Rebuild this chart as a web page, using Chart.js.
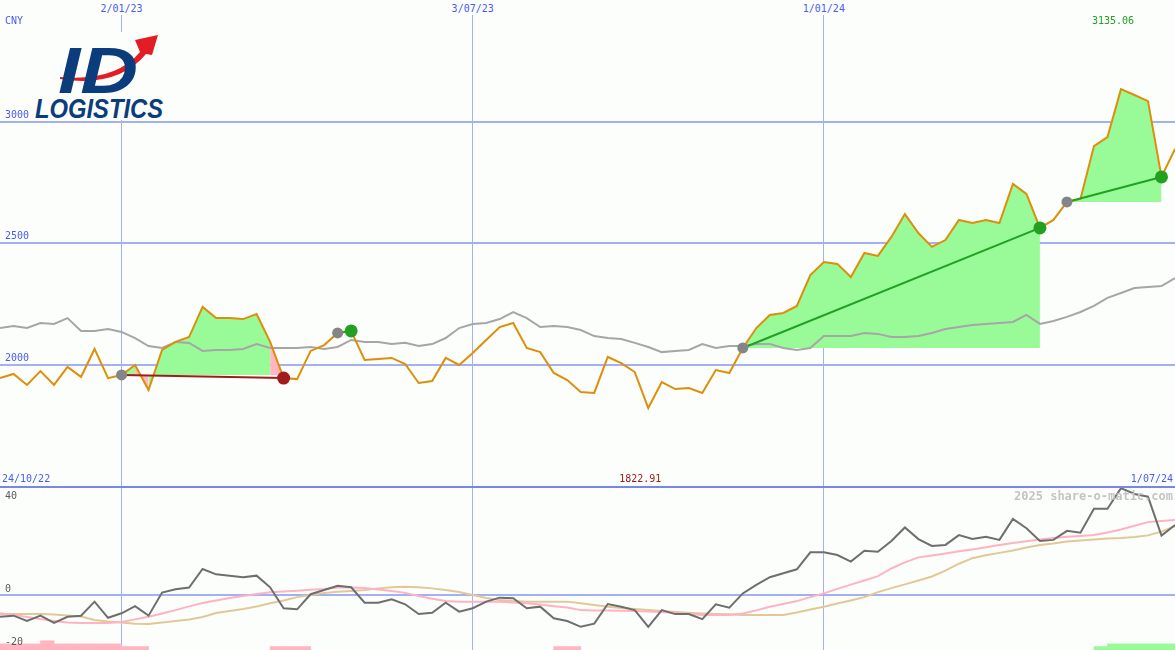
<!DOCTYPE html>
<html>
  <head>
    <title>ID Logistics weekly chart</title>
    <script src="https://cdn.jsdelivr.net/npm/chart.js"></script>
    <style>
      body {
        margin: 0;
        background: #fcfefc;
        font-family: "DejaVu Sans Mono", monospace;
      }

      #page {
        position: relative;
        width: 1175px;
        height: 650px;
        overflow: hidden;
      }

      canvas {
        position: absolute;
        left: 0;
      }

      #priceChart {
        top: 15px;
      }

      #momChart {
        top: 487px;
      }

      .lbl {
        position: absolute;
        font-size: 10px;
        line-height: 10px;
        white-space: nowrap;
        color: #4a5af2;
      }

      #divider {
        position: absolute;
        left: 0;
        top: 486px;
        width: 1175px;
        height: 2px;
        background: #7886ec;
      }

      #logo {
        position: absolute;
        left: 30px;
        top: 32px;
      }
    </style>
  </head>
  <body>
    <div id="page">
      <canvas id="momChart" width="1175" height="163"></canvas>
      <canvas id="priceChart" width="1175" height="472"></canvas>
      <div id="divider"></div>
      <svg id="logo" width="136" height="88">
        <rect width="136" height="88" fill="#fcfefc" />
        <path d="M30 45 Q85 50 110 20 L105 8 L128 3 L122 23 L116 22 Q88 56 30 47 Z" fill="#e41d25" />
        <text x="28" y="61" font-family="Liberation Sans" font-size="64" font-weight="bold"
          font-style="italic" fill="#0b3c7c" textLength="80" lengthAdjust="spacingAndGlyphs">ID</text>
        <text x="5" y="86" font-family="Liberation Sans" font-size="28" font-weight="bold"
          font-style="italic" fill="#0b3c7c" textLength="128" lengthAdjust="spacingAndGlyphs">LOGISTICS</text>
      </svg>
    </div>
    <script>
      // weekly closes, 31/10/22 .. 1/07/24
      const price = [
        1946, 1963, 1918, 1975, 1918, 1992, 1951, 2066, 1946, 1959,
        2000, 1897, 2062, 2095, 2115, 2239, 2193, 2193, 2189, 2210,
        2095, 1946, 1942, 2058, 2082, 2132, 2140, 2021, 2025, 2029,
        2004, 1926, 1934, 2029, 2000, 2049, 2103, 2156, 2173, 2070,
        2053, 1967, 1938, 1889, 1885, 2033, 2008, 1971, 1822.91, 1930,
        1901, 1905, 1885, 1979, 1967, 2070, 2152, 2206, 2214, 2243,
        2370, 2424, 2416, 2362, 2461, 2449, 2527, 2621, 2543, 2486,
        2514, 2597, 2584, 2597, 2584, 2745, 2704, 2564, 2597, 2671,
        2683, 2901, 2938, 3135.06, 3111, 3086, 2774, 2889,
      ];
      const avg = [
        2152, 2160, 2152, 2173, 2169, 2193, 2140, 2140, 2148, 2136,
        2111, 2078, 2070, 2095, 2091, 2058, 2062, 2062, 2066, 2086,
        2070, 2070, 2070, 2074, 2066, 2074, 2103, 2095, 2095, 2086,
        2091, 2078, 2086, 2111, 2152, 2169, 2173, 2189, 2218, 2193,
        2156, 2160, 2156, 2144, 2119, 2111, 2107, 2091, 2074, 2053,
        2058, 2062, 2086, 2070, 2078, 2078, 2086, 2086, 2070, 2062,
        2070, 2119, 2119, 2119, 2132, 2128, 2115, 2115, 2119, 2132,
        2148, 2156, 2165, 2169, 2173, 2177, 2206, 2169, 2181, 2198,
        2218, 2243, 2276, 2296, 2317, 2321, 2325, 2358,
      ];
      const momentum = [
        -8.2, -7.8, -9.8, -7.8, -10.5, -8.2, -7.8, -2.5, -8.6, -6.9,
        -4.2, -7.8, 0.9, 2.2, 2.8, 9.8, 7.8, 7.3, 6.7, 7.3,
        2.9, -5.0, -5.4, 0.3, 1.9, 3.5, 2.9, -2.9, -2.9, -1.6,
        -3.5, -7.2, -6.7, -2.9, -6.3, -5.0, -2.5, -1.0, -1.2, -5.0,
        -4.4, -8.8, -9.8, -12.0, -10.8, -3.4, -4.4, -5.7, -12.0, -5.7,
        -7.2, -7.2, -9.1, -3.5, -4.8, 0.6, 3.8, 6.7, 8.2, 9.7,
        16.1, 16.1, 15.1, 12.6, 16.7, 16.3, 20.4, 25.5, 21.1, 18.5,
        18.9, 22.6, 21.1, 22.0, 20.8, 28.7, 25.2, 20.4, 20.8, 24.2,
        23.5, 32.5, 32.5, 40.3, 38.1, 37.1, 22.4, 26.4,
      ];
      const momPink = [
        -6.9, -7.5, -8.3, -9.1, -9.8, -10.4, -10.6, -10.6, -10.6, -10.2,
        -9.2, -8.2, -7.0, -5.7, -4.3, -3.0, -2.1, -1.1, -0.4, 0.4,
        1.0, 1.3, 1.6, 2.0, 2.3, 2.8, 2.8, 2.6, 2.1, 1.5,
        0.8, -0.4, -1.4, -2.3, -2.5, -2.5, -2.5, -2.5, -2.8, -3.1,
        -3.6, -4.2, -4.7, -5.7, -5.8, -5.8, -5.9, -6.0, -6.2, -6.4,
        -6.8, -7.2, -7.5, -7.5, -7.5, -7.0, -5.8, -4.4, -3.4, -2.3,
        -0.8, 0.6, 2.3, 3.9, 5.5, 7.1, 10.0, 12.3, 14.2, 14.9,
        15.7, 16.5, 17.2, 18.0, 18.9, 19.6, 20.3, 20.9, 21.5, 22.0,
        22.3, 22.6, 23.6, 24.7, 26.1, 27.5, 27.9, 28.3,
      ];
      const momTan = [
        -7.2, -7.2, -7.2, -7.2, -7.4, -7.7, -8.1, -9.4, -10.0, -10.4,
        -10.8, -10.9, -10.4, -9.8, -9.2, -8.3, -6.8, -6.0, -5.3, -4.3,
        -3.1, -2.1, -0.8, 0.0, 0.8, 1.2, 1.5, 1.9, 2.5, 2.9,
        3.1, 2.9, 2.5, 1.9, 1.1, 0.0, -1.1, -1.9, -2.3, -2.5,
        -2.5, -2.5, -2.5, -3.1, -3.8, -4.4, -4.9, -5.3, -5.7, -6.0,
        -6.4, -6.7, -7.0, -7.2, -7.3, -7.5, -7.5, -7.5, -7.5, -6.6,
        -5.5, -4.4, -3.2, -2.1, -0.8, 1.1, 2.6, 4.0, 5.5, 7.0,
        9.2, 11.8, 13.9, 15.0, 15.9, 16.8, 17.9, 18.9, 19.4, 20.2,
        20.6, 20.9, 21.3, 21.5, 21.9, 22.5, 23.9, 26.0,
      ];
      // bar heights at the foot of the lower panel
      const sellSignal = [
        2.3, 2.3, 2.3, 3.5, 2.3, 2.3, 2.3, 2.3, 2.3, 1.3,
        1.3, 0, 0, 0, 0, 0, 0, 0, 0, 0,
        1.3, 1.3, 1.3, 0, 0, 0, 0, 0, 0, 0,
        0, 0, 0, 0, 0, 0, 0, 0, 0, 0,
        0, 1.3, 1.3, 0, 0, 0, 0, 0, 0, 0,
        0, 0, 0, 0, 0, 0, 0, 0, 0, 0,
        0, 0, 0, 0, 0, 0, 0, 0, 0, 0,
        0, 0, 0, 0, 0, 0, 0, 0, 0, 0,
        0, 0, 0, 0, 0, 0, 0, 0,
      ];
      const buySignal = [
        0, 0, 0, 0, 0, 0, 0, 0, 0, 0,
        0, 0, 0, 0, 0, 0, 0, 0, 0, 0,
        0, 0, 0, 0, 0, 0, 0, 0, 0, 0,
        0, 0, 0, 0, 0, 0, 0, 0, 0, 0,
        0, 0, 0, 0, 0, 0, 0, 0, 0, 0,
        0, 0, 0, 0, 0, 0, 0, 0, 0, 0,
        0, 0, 0, 0, 0, 0, 0, 0, 0, 0,
        0, 0, 0, 0, 0, 0, 0, 0, 0, 0,
        0, 1.3, 2.3, 2.3, 2.3, 2.3, 2.3, 0,
      ];
      const tradeEntry = [9, 25, 55, 79];
      const tradeExit = [21, 26, 77, 86];
      const dateTicks = [9, 35, 61];
      const dateLabels = ["2/01/23", "3/07/23", "1/01/24"];
      const firstDate = "24/10/22";
      const lastDate = "1/07/24";
      const priceTicks = [2000, 2500, 3000];
      const momTicks = [40, 0, -20];

      const PRICE_MIN = 1497.9;
      const PRICE_MAX = 3440.3;
      const MOM_MIN = -20.75;
      const MOM_MAX = 40.75;

      const gridColor = "#a3b0f2";
      const gainFill = "#98fb98";
      const lossFill = "#ffb6c1";
      const gainLine = "#22a022";
      const lossLine = "#a01c1c";

      const pts = (arr) => arr.map((v, i) => ({ x: i, y: v }));

      function xScale() {
        return {
          type: "linear",
          min: 0,
          max: price.length - 1,
          offset: false,
          afterBuildTicks: (s) => {
            s.ticks = dateTicks.map((v) => ({ value: v }));
          },
          ticks: { display: false },
          grid: { color: gridColor, lineWidth: 1, drawTicks: false, offset: false },
          border: { display: false },
        };
      }

      function yScale(min, max, ticks) {
        return {
          min: min,
          max: max,
          afterBuildTicks: (s) => {
            s.ticks = ticks.map((v) => ({ value: v }));
          },
          ticks: { display: false },
          grid: { color: gridColor, lineWidth: 2, drawTicks: false },
          border: { display: false },
        };
      }

      const commonOptions = {
        responsive: false,
        animation: false,
        events: [],
        layout: { padding: 0, autoPadding: false },
        plugins: { legend: { display: false }, tooltip: { enabled: false } },
      };

      // ---- price panel ----
      const priceSets = [];
      tradeEntry.forEach(function (start, k) {
        const end = tradeExit[k];
        const entryPrice = price[start];
        const span = [];
        for (let i = start; i <= end; i++) span.push(i);
        priceSets.push({
          data: span.map((i) => ({ x: i, y: entryPrice })),
          borderColor: "rgba(0,0,0,0)",
          borderWidth: 0,
          pointRadius: 0,
          fill: false,
          order: 20,
        });
        priceSets.push({
          data: span.map((i) => ({ x: i, y: price[i] })),
          borderColor: "rgba(0,0,0,0)",
          borderWidth: 0,
          pointRadius: 0,
          fill: "-1",
          backgroundColor: gainFill,
          segment: {
            backgroundColor: (c) =>
              c.p1.parsed.y >= entryPrice ? gainFill : lossFill,
          },
          order: 19,
        });
      });

      priceSets.push({
        data: pts(avg),
        borderColor: "#a6a6a6",
        borderWidth: 2,
        pointRadius: 0,
        fill: false,
        order: 10,
      });
      priceSets.push({
        data: pts(price),
        borderColor: "#de8e0a",
        borderWidth: 2,
        pointRadius: 0,
        fill: false,
        order: 8,
      });

      tradeEntry.forEach(function (start, k) {
        const end = tradeExit[k];
        const win = price[end] >= price[start];
        priceSets.push({
          data: [
            { x: start, y: price[start] },
            { x: end, y: price[end] },
          ],
          borderColor: win ? gainLine : lossLine,
          borderWidth: 2,
          pointRadius: 0,
          fill: false,
          order: 5,
        });
      });

      priceSets.push({
        data: tradeEntry.map((i) => ({ x: i, y: price[i] })),
        showLine: false,
        pointRadius: 5.5,
        pointBorderWidth: 0,
        pointBackgroundColor: "#858585",
        order: 3,
      });
      priceSets.push({
        data: tradeExit.map((i) => ({ x: i, y: price[i] })),
        showLine: false,
        pointRadius: 6.5,
        pointBorderWidth: 0,
        pointBackgroundColor: tradeExit.map((e, k) =>
          price[e] >= price[tradeEntry[k]] ? gainLine : lossLine
        ),
        order: 2,
      });

      const priceChart = new Chart(document.getElementById("priceChart"), {
        type: "line",
        data: { datasets: priceSets },
        options: Object.assign({}, commonOptions, {
          scales: {
            x: xScale(),
            y: yScale(PRICE_MIN, PRICE_MAX, priceTicks),
          },
        }),
      });

      // ---- momentum panel ----
      const barData = (arr) =>
        arr
          .map((h, i) => (h ? { x: i + 0.5, y: [MOM_MIN, MOM_MIN + h] } : null))
          .filter(Boolean);

      const momChart = new Chart(document.getElementById("momChart"), {
        type: "line",
        data: {
          datasets: [
            {
              type: "bar",
              data: barData(sellSignal),
              backgroundColor: lossFill,
              borderWidth: 0,
              barPercentage: 1,
              categoryPercentage: 1,
              grouped: false,
              order: 9,
            },
            {
              type: "bar",
              data: barData(buySignal),
              backgroundColor: gainFill,
              borderWidth: 0,
              barPercentage: 1,
              categoryPercentage: 1,
              grouped: false,
              order: 9,
            },
            {
              data: pts(momTan),
              borderColor: "#e2c898",
              borderWidth: 2,
              pointRadius: 0,
              fill: false,
              order: 4,
            },
            {
              data: pts(momPink),
              borderColor: "#ffb2c2",
              borderWidth: 2,
              pointRadius: 0,
              fill: false,
              order: 3,
            },
            {
              data: pts(momentum),
              borderColor: "#6e6e6e",
              borderWidth: 2,
              pointRadius: 0,
              fill: false,
              order: 1,
            },
          ],
        },
        options: Object.assign({}, commonOptions, {
          scales: {
            x: xScale(),
            y: yScale(MOM_MIN, MOM_MAX, [0]),
          },
        }),
      });

      // ---- text ----
      const page = document.getElementById("page");
      function addLabel(text, x, y, color, align, bold, size) {
        const d = document.createElement("div");
        d.className = "lbl";
        d.textContent = text;
        const fs = size || 10;
        d.style.fontSize = fs + "px";
        d.style.lineHeight = fs + "px";
        d.style.top = y - fs / 2 + "px";
        if (align === "center") {
          d.style.left = x + "px";
          d.style.transform = "translateX(-50%)";
        } else if (align === "right") {
          d.style.right = 1175 - x + "px";
        } else {
          d.style.left = x + "px";
        }
        if (color) d.style.color = color;
        if (bold) d.style.fontWeight = "bold";
        page.appendChild(d);
      }

      const px = priceChart.scales.x;
      const py = priceChart.scales.y;
      dateTicks.forEach((t, k) =>
        addLabel(dateLabels[k], px.getPixelForValue(t), 9, null, "center")
      );
      addLabel("CNY", 5, 21, null, "left");
      priceTicks.forEach((v) =>
        addLabel(String(v), 5, 15 + py.getPixelForValue(v) - 7, null, "left")
      );

      const hi = price.indexOf(Math.max(...price));
      const lo = price.indexOf(Math.min(...price));
      addLabel(
        Math.max(...price).toFixed(2),
        px.getPixelForValue(hi) - 8,
        21,
        "#22a022",
        "center"
      );
      addLabel(firstDate, 2, 479, null, "left");
      addLabel(
        Math.min(...price).toFixed(2),
        px.getPixelForValue(lo) - 8,
        479,
        "#a01c1c",
        "center"
      );
      addLabel(lastDate, 1173, 479, null, "right");
      addLabel("2025 share-o-matic.com", 1173, 496, "#c4c4c4", "right", true, 12);

      const my = momChart.scales.y;
      momTicks.forEach((v) => {
        const lineY = 487 + my.getPixelForValue(v);
        addLabel(String(v), 5, v === 40 ? lineY + 7 : lineY - 6, "#5a5a5a", "left");
      });
    </script>
  </body>
</html>
